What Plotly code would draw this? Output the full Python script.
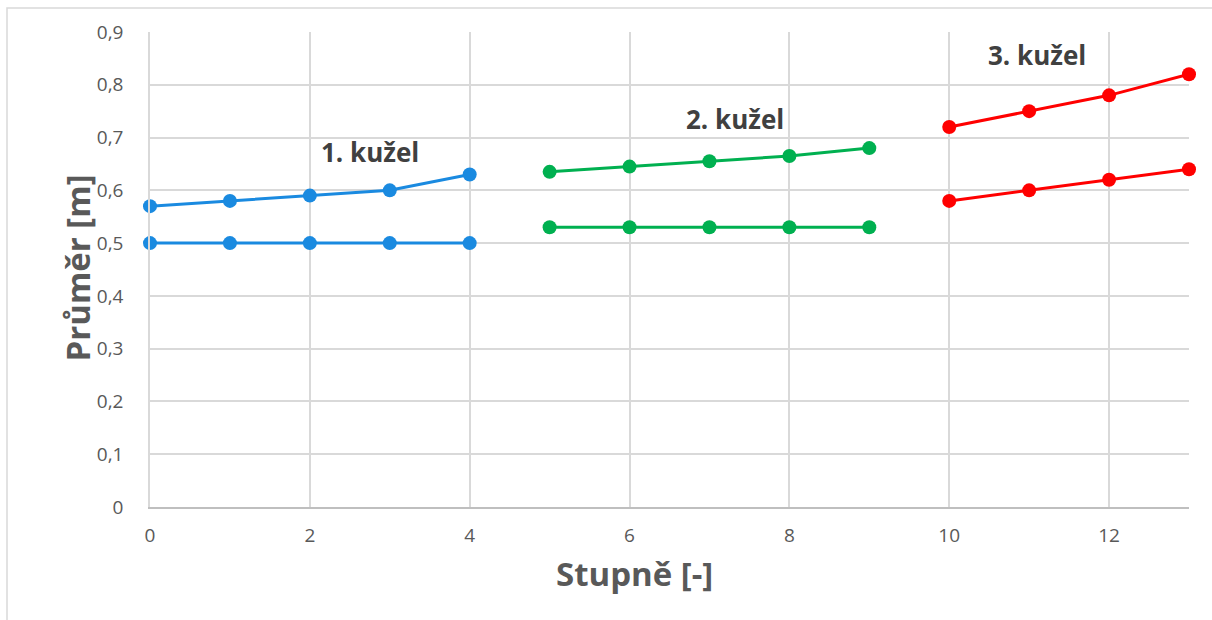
import plotly.graph_objects as go

# Stage indices for each cone section
stages_1 = [0, 1, 2, 3, 4]
stages_2 = [5, 6, 7, 8, 9]
stages_3 = [10, 11, 12, 13]

# Diameters [m]: upper and lower curve of each cone
cone1_upper = [0.57, 0.58, 0.59, 0.60, 0.63]
cone1_lower = [0.50, 0.50, 0.50, 0.50, 0.50]
cone2_upper = [0.635, 0.645, 0.655, 0.665, 0.68]
cone2_lower = [0.53, 0.53, 0.53, 0.53, 0.53]
cone3_upper = [0.72, 0.75, 0.78, 0.82]
cone3_lower = [0.58, 0.60, 0.62, 0.64]

cone_labels = ["1. kužel", "2. kužel", "3. kužel"]
label_pos = [(2.75, 0.673), (7.32, 0.735), (11.1, 0.857)]

BLUE = "#1A8AE0"
GREEN = "#00B050"
RED = "#FF0000"

fig = go.Figure()

series = [
    (stages_1, cone1_upper, BLUE), (stages_1, cone1_lower, BLUE),
    (stages_2, cone2_upper, GREEN), (stages_2, cone2_lower, GREEN),
    (stages_3, cone3_upper, RED), (stages_3, cone3_lower, RED),
]
for xs, ys, col in series:
    fig.add_trace(go.Scatter(
        x=xs, y=ys, mode="lines+markers",
        line=dict(color=col, width=3),
        marker=dict(color=col, size=14),
        showlegend=False, cliponaxis=False,
    ))

for text, (lx, ly) in zip(cone_labels, label_pos):
    fig.add_annotation(x=lx, y=ly, text=f"<b>{text}</b>", showarrow=False,
                       font=dict(family="Open Sans", size=26, color="#404040"))

# Axis titles
fig.add_annotation(xref="paper", yref="paper", x=(634 - 150) / 1039, y=(507 - 598) / 475,
                   text="<b>Stupně [-]</b>", showarrow=False,
                   font=dict(family="Open Sans", size=33, color="#595959"))
fig.add_annotation(xref="paper", yref="paper", x=(52 - 150) / 1039, y=(507 - 268) / 475,
                   text="<b>Průměr [m]</b>", showarrow=False, textangle=-90,
                   font=dict(family="Open Sans", size=33, color="#595959"))

# Outer chart frame
fig.add_shape(type="rect", xref="paper", yref="paper",
              x0=(7 - 150) / 1039, x1=(1225 - 150) / 1039,
              y0=(507 - 640) / 475, y1=(507 - 8) / 475,
              line=dict(color="#D9D9D9", width=1.5), layer="below")

fig.update_layout(
    width=1212, height=620,
    margin=dict(l=150, r=23, t=32, b=113),
    paper_bgcolor="white", plot_bgcolor="white",
    separators=", ",
    font=dict(family="Open Sans", size=19, color="#595959"),
    xaxis=dict(range=[0, 13], dtick=2, tick0=0, showgrid=True, gridcolor="#D9D9D9",
               gridwidth=1.5, zeroline=False, showline=True, linecolor="#BFBFBF",
               linewidth=1.5, ticks="", ticklabelstandoff=10,
               tickfont=dict(size=19, color="#595959")),
    yaxis=dict(range=[0, 0.9], dtick=0.1, tick0=0, showgrid=True, gridcolor="#D9D9D9",
               gridwidth=1.5, zeroline=False, showline=True, linecolor="#D9D9D9",
               linewidth=1.5, ticks="", ticklabelstandoff=21,
               tickfont=dict(size=19, color="#595959")),
)

fig.write_html("out.html")
